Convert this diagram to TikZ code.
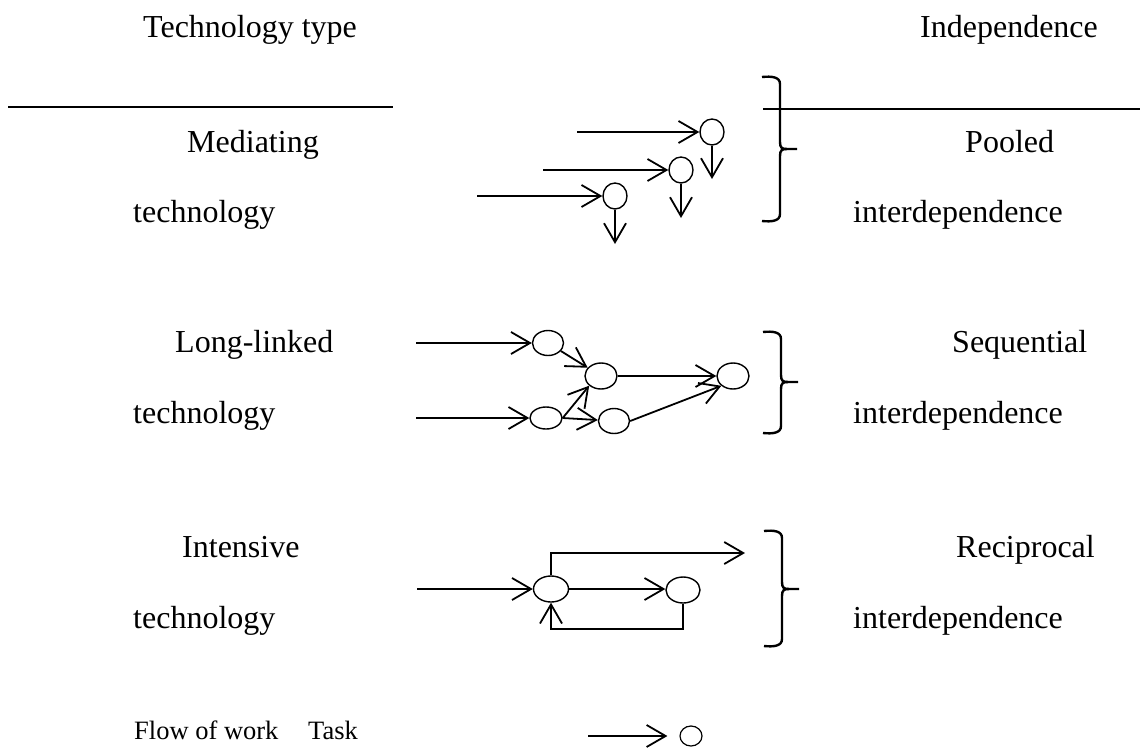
\documentclass[tikz,border=0pt]{standalone}
\usepackage{fontspec}
\setmainfont{Liberation Serif}
\usetikzlibrary{arrows.meta,shapes.geometric}

% right-hand curly brace: x of the spine, top y, middle y, bottom y
\newcommand\interbrace[4]{%
  \draw[brace] (#1-18,#2) .. controls (#1-8,#2-1) and (#1,#2) .. (#1,#2+7)
    -- (#1,#3-7) .. controls (#1,#3-1) and (#1+2,#3) .. (#1+7,#3) -- (#1+17,#3);
  \draw[brace] (#1+7,#3) .. controls (#1+2,#3) and (#1,#3+1) .. (#1,#3+7)
    -- (#1,#4-7) .. controls (#1,#4) and (#1-8,#4+1) .. (#1-18,#4);
}

\begin{document}
\begin{tikzpicture}[x=1pt,y=-1pt,
  label/.style={anchor=base west,inner sep=0pt,font=\fontsize{32}{38}\selectfont},
  small/.style={anchor=base west,inner sep=0pt,font=\fontsize{26.5}{32}\selectfont},
  task/.style={draw,ellipse,line width=1.4pt,inner sep=0pt,
    minimum width=32pt,minimum height=26pt},
  flow/.style={line width=1.8pt,-{Straight Barb[length=19pt,width=22pt,line width=1.8pt]}},
  rule/.style={line width=1.4pt},
  brace/.style={line width=2.4pt}]
\useasboundingbox (0,0) rectangle (1140,750);

% headings and rules
\node[label] (hdtype) at (143,37) {Technology type};
\node[label] (hdind) at (920,37) {Independence};
\draw[rule] (8,107) -- (393,107);
\draw[rule] (763,109) -- (1140,109);

% row labels
\node[label] (med) at (187,152) {Mediating};
\node[label] (medt) at (133,222) {technology};
\node[label] (pool) at (965,152) {Pooled};
\node[label] (pooli) at (853,222) {interdependence};

\node[label] (long) at (175,352) {Long-linked};
\node[label] (longt) at (133,423) {technology};
\node[label] (seq) at (952,352) {Sequential};
\node[label] (seqi) at (853,423) {interdependence};

\node[label] (inten) at (182,557) {Intensive};
\node[label] (intent) at (133,628) {technology};
\node[label] (recip) at (956,557) {Reciprocal};
\node[label] (recipi) at (853,628) {interdependence};

% pooled interdependence
\node[task,minimum width=24pt,minimum height=26pt] (pA) at (712,132) {};
\node[task,minimum width=24pt,minimum height=26pt] (pB) at (681,170) {};
\node[task,minimum width=24pt,minimum height=26pt] (pC) at (615,196) {};
\coordinate (pAin) at (577,132);
\coordinate (pBin) at (543,170);
\coordinate (pCin) at (477,196);
\coordinate (pAout) at (712,179);
\coordinate (pBout) at (681,218);
\coordinate (pCout) at (615,244);
\draw[flow] (pAin) -- (pA);
\draw[flow] (pBin) -- (pB);
\draw[flow] (pCin) -- (pC);
\draw[flow] (pA.south) -- (pAout);
\draw[flow] (pB.south) -- (pBout);
\draw[flow] (pC.south) -- (pCout);
\interbrace{780}{77}{149}{221}

% sequential interdependence
\node[task,minimum width=31pt,minimum height=25pt] (s1) at (548,343) {};
\node[task,minimum width=32pt,minimum height=26pt] (s2) at (601,376) {};
\node[task,minimum width=32pt,minimum height=22pt] (s3) at (546,418) {};
\node[task,minimum width=31pt,minimum height=25pt] (s4) at (614,421) {};
\node[task,minimum width=32pt,minimum height=26pt] (s5) at (733,376) {};
\coordinate (s1in) at (416,343);
\coordinate (s3in) at (416,418);
\draw[flow] (s1in) -- (s1);
\draw[flow] (s3in) -- (s3);
\draw[flow] (s1) -- (s2);
\draw[flow] (s3.east) -- (s2.south west);
\draw[flow] (s3.east) -- (s4);
\draw[flow] (s2) -- (s5);
\draw[flow] (s4.east) -- (s5.220);
\interbrace{781}{332}{382}{433}

% reciprocal interdependence
\node[task,minimum width=35pt,minimum height=26pt] (r1) at (551,589) {};
\node[task,minimum width=34pt,minimum height=26pt] (r2) at (683,590) {};
\coordinate (r1in) at (417,589);
\coordinate (rtop) at (745,553);
\coordinate (rloop) at (551,629);
\draw[flow] (r1in) -- (r1);
\draw[flow] (r1) -- (r1 -| r2.west);
\draw[flow] (r1.north) |- (rtop);
\draw[flow] (r2.south) |- (rloop) -- (r1.south);
\interbrace{782}{531}{589}{646}

% legend
\node[small] (legflow) at (134,739) {Flow of work};
\node[small] (legtask) at (308,739) {Task};
\node[task,minimum width=22pt,minimum height=20pt,line width=1.2pt] (legc) at (691,736) {};
\coordinate (legin) at (588,736);
\draw[flow] (legin) -- ([xshift=-12pt]legc.west);
\end{tikzpicture}
\end{document}
